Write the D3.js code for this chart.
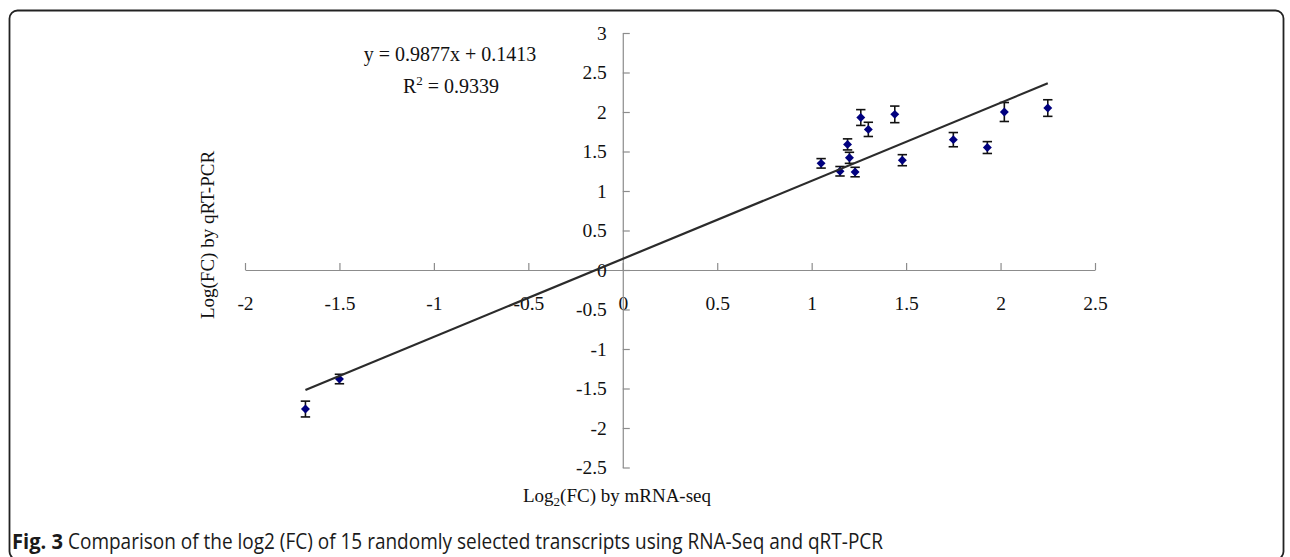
<!DOCTYPE html>
<html>
<head>
<meta charset="utf-8">
<script src="https://cdn.jsdelivr.net/npm/d3@7"></script>
<style>
  body { margin: 0; background: #fff; }
  svg { display: block; }
  .axis path, .axis line { stroke: #8c8c8c; stroke-width: 1.2; }
  .axis text { font-family: "Liberation Serif", serif; font-size: 19.5px; fill: #111; }
</style>
</head>
<body>
<div id="chart"></div>
<script>
// log2(FC) by mRNA-seq vs log(FC) by qRT-PCR
var seqFC  = [1.05, 1.15, 1.19, 1.20, 1.23, 1.26, 1.30, 1.44, 1.48, 1.75, 1.93, 2.02, 2.25, -1.50, -1.68];
var pcrFC  = [1.35, 1.25, 1.59, 1.42, 1.24, 1.93, 1.78, 1.97, 1.39, 1.65, 1.55, 2.00, 2.05, -1.38, -1.76];
var pcrErr = [0.06, 0.06, 0.07, 0.07, 0.06, 0.10, 0.09, 0.105, 0.07, 0.09, 0.075, 0.12, 0.105, 0.06, 0.10];

var xTicks = [-2, -1.5, -1, -0.5, 0, 0.5, 1, 1.5, 2, 2.5];
var yTicks = [-2.5, -2, -1.5, -1, -0.5, 0, 0.5, 1, 1.5, 2, 2.5, 3];

var slope = 0.9877, intercept = 0.1413, r2 = 0.9339;

var width = 1290;
var height = 557;

var svg = d3.select('#chart')
  .append('svg')
  .attr('width', width)
  .attr('height', height);

// figure frame (bottom edge falls just outside the picture)
svg.append('rect')
  .attr('x', 9.5)
  .attr('y', 10.5)
  .attr('width', 1274)
  .attr('height', 549)
  .attr('rx', 8)
  .attr('fill', 'none')
  .attr('stroke', '#222')
  .attr('stroke-width', 1.8);

var x = d3.scaleLinear().domain([-2, 2.5]).range([245, 1095]);
var y = d3.scaleLinear().domain([-2.5, 3]).range([467.5, 33]);

// x axis crosses at y = 0, ticks pointing up, labels below
svg.append('g')
  .attr('class', 'axis')
  .attr('transform', 'translate(0,' + y(0) + ')')
  .call(d3.axisBottom(x)
    .tickValues(xTicks)
    .tickFormat(function(d) { return String(d); })
    .tickSizeInner(-7)
    .tickSizeOuter(0)
    .tickPadding(26));

// y axis crosses at x = 0, ticks pointing right, labels left
svg.append('g')
  .attr('class', 'axis')
  .attr('transform', 'translate(' + x(0) + ',0)')
  .call(d3.axisLeft(y)
    .tickValues(yTicks)
    .tickFormat(function(d) { return String(d); })
    .tickSizeInner(-7)
    .tickSizeOuter(0)
    .tickPadding(16));

svg.selectAll('.axis text').attr('fill', '#111');

var data = seqFC.map(function(d, i) {
  return { x: d, y: pcrFC[i], err: pcrErr[i] };
});

// error bars
var bars = svg.append('g')
  .attr('stroke', '#111')
  .attr('stroke-width', 1.6);

bars.selectAll('.stem')
  .data(data)
  .enter()
  .append('line')
  .attr('x1', function(d) { return x(d.x); })
  .attr('x2', function(d) { return x(d.x); })
  .attr('y1', function(d) { return y(d.y + d.err); })
  .attr('y2', function(d) { return y(d.y - d.err); });

[1, -1].forEach(function(s) {
  bars.selectAll('.cap' + s)
    .data(data)
    .enter()
    .append('line')
    .attr('x1', function(d) { return x(d.x) - 4.7; })
    .attr('x2', function(d) { return x(d.x) + 4.7; })
    .attr('y1', function(d) { return y(d.y + s * d.err); })
    .attr('y2', function(d) { return y(d.y + s * d.err); });
});

// diamond markers
svg.append('g')
  .selectAll('path')
  .data(data)
  .enter()
  .append('path')
  .attr('d', d3.symbol().type(d3.symbolSquare).size(40))
  .attr('transform', function(d) {
    return 'translate(' + x(d.x) + ',' + y(d.y) + ') rotate(45)';
  })
  .attr('fill', '#00007f');

// linear trendline over the data range
var xExt = d3.extent(seqFC);
svg.append('line')
  .attr('x1', x(xExt[0]))
  .attr('y1', y(slope * xExt[0] + intercept))
  .attr('x2', x(xExt[1]))
  .attr('y2', y(slope * xExt[1] + intercept))
  .attr('stroke', '#2b2b2b')
  .attr('stroke-width', 2.2);

// equation
var eq = svg.append('g')
  .attr('font-family', '"Liberation Serif", serif')
  .attr('font-size', '20px')
  .attr('fill', '#111')
  .attr('text-anchor', 'middle');

eq.append('text')
  .attr('x', 450)
  .attr('y', 60.5)
  .text('y = ' + slope + 'x + ' + intercept);

var r2t = eq.append('text')
  .attr('x', 451)
  .attr('y', 93);
r2t.append('tspan').text('R');
r2t.append('tspan').attr('dy', -8).attr('font-size', '13px').text('2');
r2t.append('tspan').attr('dy', 8).text(' = ' + r2);

// axis titles
var xt = svg.append('text')
  .attr('x', 617)
  .attr('y', 502)
  .attr('text-anchor', 'middle')
  .attr('font-family', '"Liberation Serif", serif')
  .attr('font-size', '19px')
  .attr('fill', '#111');
xt.append('tspan').text('Log');
xt.append('tspan').attr('dy', 4).attr('font-size', '13px').text('2');
xt.append('tspan').attr('dy', -4).text('(FC) by mRNA-seq');

svg.append('text')
  .attr('transform', 'translate(214,235) rotate(-90)')
  .attr('text-anchor', 'middle')
  .attr('font-family', '"Liberation Serif", serif')
  .attr('font-size', '19px')
  .attr('fill', '#111')
  .text('Log(FC) by qRT-PCR');

// caption
svg.append('text')
  .attr('x', 12)
  .attr('y', 549)
  .attr('font-family', '"Open Sans", sans-serif')
  .attr('font-size', '22px')
  .attr('font-weight', 'bold')
  .attr('fill', '#1a1a1a')
  .attr('textLength', 51)
  .attr('lengthAdjust', 'spacingAndGlyphs')
  .text('Fig. 3');

svg.append('text')
  .attr('x', 68)
  .attr('y', 549)
  .attr('font-family', '"Open Sans", sans-serif')
  .attr('font-size', '22px')
  .attr('fill', '#1a1a1a')
  .attr('textLength', 815)
  .attr('lengthAdjust', 'spacingAndGlyphs')
  .text('Comparison of the log2 (FC) of 15 randomly selected transcripts using RNA-Seq and qRT-PCR');
</script>
</body>
</html>
